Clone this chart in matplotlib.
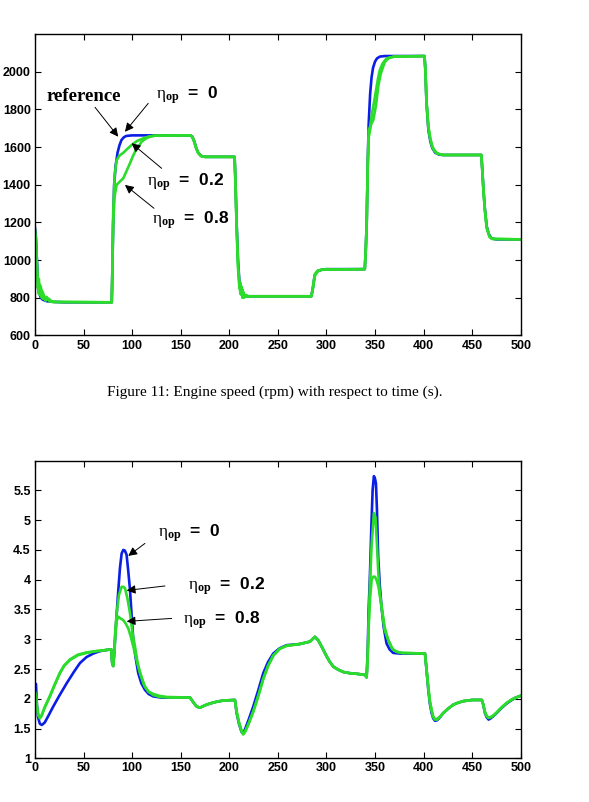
import numpy as np
import matplotlib
matplotlib.use("Agg")
import matplotlib.pyplot as plt

# ---- data: (time s, value) ----
# engine speed (rpm)
speed_blue = [
    (0, 1170), (1, 1120), (2, 1000), (3, 900), (4, 830), (6, 800), (8, 790), (12, 782), (20, 778),
    (30, 776), (79, 776), (79.5, 900), (80.5, 1200), (81.5, 1400), (83, 1500), (85, 1570), (87, 1610),
    (89, 1637), (91.5, 1652), (94, 1659), (100, 1662), (160, 1662), (162, 1655), (164, 1630),
    (166, 1595), (168, 1570), (171, 1553), (175, 1548), (205.5, 1548), (206.5, 1400), (207.5, 1210),
    (209, 1000), (210.5, 880), (213, 830), (216, 810), (220, 808), (284.5, 808), (286, 850),
    (288, 920), (291, 942), (296, 950), (300, 952), (339.5, 952), (340.5, 1050), (341.5, 1200),
    (342.5, 1500), (343.5, 1720), (345, 1880), (346.5, 1970), (348, 2020), (350, 2053), (352, 2070),
    (355, 2080), (360, 2083), (401, 2083), (402, 2000), (403, 1840), (405, 1690), (407, 1630),
    (409, 1595), (412, 1570), (416, 1560), (420, 1558), (459.5, 1558), (460.5, 1480), (461.5, 1390),
    (463, 1280), (465, 1180), (467, 1140), (470, 1115), (475, 1110), (500, 1110),
]
speed_eta02 = [
    (0, 1150), (1, 1100), (2, 950), (3, 850), (4, 900), (5, 820), (6, 860), (7, 800), (8, 830),
    (10, 790), (12, 805), (15, 780), (20, 778), (79, 776), (79.5, 900), (80.5, 1250), (82, 1450),
    (84, 1530), (87, 1555), (91, 1570), (95, 1590), (99.5, 1611), (105, 1632), (111.5, 1646),
    (117, 1656), (122, 1660), (160, 1662), (162, 1655), (164, 1630), (166, 1595), (168, 1570),
    (171, 1553), (175, 1548), (205.5, 1548), (206.5, 1400), (207.5, 1200), (209, 980), (210.5, 870),
    (211.5, 820), (212.5, 860), (213.5, 800), (214.5, 830), (216, 805), (220, 808), (284.5, 808),
    (286, 850), (288, 925), (291, 944), (296, 950), (339.5, 952), (340.5, 1050), (341.5, 1200),
    (342.5, 1500), (343.5, 1690), (345, 1708), (347, 1780), (350, 1867), (353, 1960), (355, 2009),
    (358, 2045), (362, 2071), (369, 2080), (401, 2083), (402, 2000), (403, 1840), (405, 1700),
    (407, 1640), (409, 1600), (411, 1580), (414, 1565), (420, 1558), (459.5, 1558), (460.5, 1480),
    (461.5, 1390), (463, 1280), (465, 1177), (468, 1125), (471, 1113), (500, 1110),
]
speed_eta08 = [
    (0, 1160), (1, 1080), (2, 980), (3, 880), (4, 820), (5, 870), (6, 810), (7, 840), (8, 795),
    (9, 815), (11, 785), (14, 795), (18, 778), (79, 776), (79.5, 900), (80.5, 1200), (82, 1340),
    (84, 1399), (87, 1415), (90.9, 1434), (94, 1470), (97.8, 1514), (100.5, 1548), (103, 1575),
    (106, 1600), (109.8, 1628), (114, 1645), (118.4, 1655), (124, 1661), (160, 1662), (162, 1652),
    (164, 1625), (166, 1592), (168, 1568), (171, 1552), (175, 1548), (205.5, 1548), (206.5, 1380),
    (207.5, 1180), (209, 960), (210.5, 850), (211.5, 880), (212.5, 815), (213.5, 845), (215, 800),
    (217, 815), (220, 808), (284.5, 808), (286, 845), (288, 915), (291, 940), (296, 950), (339.5, 952),
    (340.5, 1050), (341.5, 1200), (342.5, 1480), (343.5, 1650), (346, 1720), (348.3, 1744),
    (351, 1820), (353.5, 1926), (356, 1990), (360, 2050), (364, 2072), (370, 2080), (401, 2083),
    (402, 2000), (403, 1850), (405, 1710), (407, 1645), (409, 1605), (411, 1585), (414, 1567),
    (420, 1558), (459.5, 1558), (460.5, 1470), (461.5, 1380), (463, 1270), (465, 1170), (468, 1122),
    (471, 1112), (500, 1110),
]

# second plot
ratio_blue = [
    (0, 2.23), (1, 2.25), (2, 1.9), (3, 1.7), (5, 1.58), (7, 1.56), (10, 1.6), (14, 1.72),
    (18.8, 1.87), (25, 2.05), (32.6, 2.26), (40, 2.45), (46.3, 2.6), (53, 2.7), (60, 2.76), (67, 2.8),
    (73.8, 2.82), (78.5, 2.83), (79.5, 2.6), (80.5, 2.55), (81.5, 2.75), (82.4, 2.99), (84, 3.4),
    (85.8, 3.83), (87.5, 4.2), (89.2, 4.44), (90.9, 4.5), (92.5, 4.49), (94.3, 4.42), (96, 4.15),
    (97.8, 3.83), (99.5, 3.4), (101.2, 2.99), (103.5, 2.7), (106.3, 2.43), (109.5, 2.26),
    (113.2, 2.15), (117, 2.08), (121.8, 2.04), (130, 2.02), (159.6, 2.02), (163, 1.94), (166.4, 1.87),
    (169.8, 1.85), (175, 1.89), (180, 1.92), (187, 1.95), (193.8, 1.97), (205.8, 1.98), (206.5, 1.9),
    (207.6, 1.76), (210, 1.58), (212.7, 1.44), (214.4, 1.42), (216.5, 1.5), (220, 1.65),
    (224.7, 1.87), (230, 2.15), (235, 2.43), (240, 2.62), (245.3, 2.76), (252, 2.85), (259, 2.9),
    (272.7, 2.92), (283, 2.96), (288.2, 3.04), (291.7, 2.98), (296, 2.85), (300.3, 2.71),
    (303.5, 2.62), (307.1, 2.54), (312, 2.49), (317.4, 2.45), (324, 2.43), (331.1, 2.42),
    (339.7, 2.4), (341.4, 2.36), (342.5, 2.8), (343.5, 3.5), (344.9, 4.11), (346.3, 4.9),
    (347.6, 5.51), (348.9, 5.74), (350, 5.7), (351, 5.62), (352, 5.2), (353.3, 4.39), (355, 3.9),
    (356.7, 3.55), (359, 3.2), (361.9, 2.93), (365, 2.83), (368.8, 2.77), (375.7, 2.76),
    (401.5, 2.76), (403, 2.5), (404.9, 2.15), (406.5, 1.92), (408.3, 1.76), (410, 1.67),
    (411.8, 1.63), (414, 1.64), (417, 1.69), (420.3, 1.76), (425, 1.83), (430.6, 1.9), (435, 1.93),
    (440.9, 1.96), (450, 1.98), (460, 1.98), (461.5, 1.9), (463.2, 1.76), (465, 1.69), (467, 1.65),
    (469, 1.67), (472, 1.71), (475.3, 1.76), (480, 1.84), (485.6, 1.92), (490, 1.97), (495, 2.02),
    (500, 2.05),
]
ratio_eta02 = [
    (0, 2.1), (1, 2.05), (2, 1.85), (3.5, 1.72), (5.1, 1.67), (7, 1.72), (10, 1.85), (15.4, 2.04),
    (20, 2.22), (25.7, 2.43), (30, 2.55), (36, 2.65), (44, 2.73), (53.2, 2.77), (63, 2.8),
    (73.8, 2.82), (78.5, 2.83), (79.5, 2.6), (80.5, 2.55), (81.5, 2.75), (82.5, 3.1), (84.1, 3.44),
    (86.5, 3.75), (89.2, 3.88), (91, 3.88), (92.6, 3.86), (95, 3.7), (97.8, 3.44), (100.5, 3.1),
    (102.9, 2.88), (105.5, 2.62), (108.1, 2.43), (112, 2.24), (116.6, 2.12), (122, 2.06),
    (128.7, 2.03), (140, 2.02), (159.6, 2.02), (163, 1.94), (166.4, 1.87), (169.8, 1.85), (175, 1.89),
    (180, 1.92), (187, 1.95), (193.8, 1.97), (205.8, 1.98), (206.5, 1.9), (207.6, 1.78), (210, 1.6),
    (212.7, 1.45), (214.4, 1.4), (216.5, 1.45), (220, 1.58), (224.7, 1.78), (230, 2.05), (235, 2.33),
    (240, 2.55), (245.3, 2.72), (252, 2.84), (259, 2.89), (272.7, 2.92), (283, 2.96), (288.2, 3.04),
    (291.7, 2.98), (296, 2.85), (300.3, 2.71), (303.5, 2.62), (307.1, 2.54), (312, 2.49),
    (317.4, 2.45), (324, 2.43), (331.1, 2.42), (339.7, 2.4), (341.4, 2.36), (342.5, 2.7),
    (343.5, 3.3), (345, 4.0), (346.6, 4.6), (348.9, 5.12), (350.5, 5.05), (352, 4.6), (353.5, 4.1),
    (355, 3.75), (357, 3.5), (360, 3.15), (363.6, 2.99), (368, 2.83), (372.2, 2.79), (378, 2.77),
    (401.5, 2.76), (403, 2.5), (404.9, 2.18), (406.5, 1.95), (408.3, 1.8), (410, 1.69), (411.8, 1.65),
    (414, 1.65), (417, 1.7), (420.3, 1.76), (425, 1.83), (430.6, 1.9), (435, 1.93), (440.9, 1.96),
    (450, 1.98), (460, 1.98), (461.5, 1.9), (463.2, 1.78), (465, 1.71), (467, 1.68), (469, 1.69),
    (472, 1.72), (475.3, 1.77), (480, 1.85), (485.6, 1.93), (490, 1.98), (495, 2.02), (500, 2.05),
]
ratio_eta08 = [
    (0, 2.12), (1, 2.06), (2, 1.86), (3.5, 1.73), (5.1, 1.68), (7, 1.73), (10, 1.86), (15.4, 2.05),
    (20, 2.23), (25.7, 2.44), (30, 2.56), (36, 2.66), (44, 2.74), (53.2, 2.78), (63, 2.8),
    (73.8, 2.82), (78.5, 2.83), (79.5, 2.6), (80.5, 2.55), (81.5, 2.72), (82.5, 3.0), (84, 3.3),
    (85.8, 3.38), (88, 3.35), (90.9, 3.32), (93.5, 3.26), (96.1, 3.18), (98.5, 3.05), (101.2, 2.88),
    (103.8, 2.7), (106.3, 2.54), (110, 2.35), (113.2, 2.2), (117, 2.12), (121.8, 2.08), (128, 2.05),
    (135.5, 2.03), (159.6, 2.02), (163, 1.94), (166.4, 1.87), (169.8, 1.85), (175, 1.89), (180, 1.92),
    (187, 1.95), (193.8, 1.97), (205.8, 1.98), (206.5, 1.9), (207.6, 1.78), (210, 1.6),
    (212.7, 1.46), (214.4, 1.41), (216.5, 1.46), (220, 1.59), (224.7, 1.79), (230, 2.06),
    (235, 2.34), (240, 2.56), (245.3, 2.73), (252, 2.84), (259, 2.89), (272.7, 2.92), (283, 2.96),
    (288.2, 3.04), (291.7, 2.98), (296, 2.85), (300.3, 2.71), (303.5, 2.62), (307.1, 2.54),
    (312, 2.49), (317.4, 2.45), (324, 2.43), (331.1, 2.42), (339.7, 2.4), (341.4, 2.36),
    (342.5, 2.7), (343.5, 3.2), (345, 3.7), (346.6, 4.0), (348, 4.05), (350, 4.05), (351.5, 4.0),
    (353.5, 3.89), (355, 3.75), (356.9, 3.55), (360, 3.2), (363.6, 2.99), (368, 2.84), (372.2, 2.79),
    (378, 2.77), (401.5, 2.76), (403, 2.52), (404.9, 2.2), (406.5, 1.97), (408.3, 1.81), (410, 1.7),
    (411.8, 1.66), (414, 1.66), (417, 1.7), (420.3, 1.76), (425, 1.83), (430.6, 1.9), (435, 1.93),
    (440.9, 1.96), (450, 1.98), (460, 1.98), (461.5, 1.9), (463.2, 1.78), (465, 1.71), (467, 1.68),
    (469, 1.69), (472, 1.72), (475.3, 1.77), (480, 1.85), (485.6, 1.93), (490, 1.98), (495, 2.02),
    (500, 2.05),
]

speed_ticks = [600, 800, 1000, 1200, 1400, 1600, 1800, 2000]
ratio_ticks = [1, 1.5, 2, 2.5, 3, 3.5, 4, 4.5, 5, 5.5]
ratio_ticklabels = ["1", "1.5", "2", "2.5", "3", "3.5", "4", "4.5", "5", "5.5"]
time_ticks = [0, 50, 100, 150, 200, 250, 300, 350, 400, 450, 500]
caption = "Figure 11: Engine speed (rpm) with respect to time (s)."

BLUE = "#0a1ee6"
GREEN = "#2bdc2b"

plt.rcParams["mathtext.fontset"] = "custom"
plt.rcParams["mathtext.rm"] = "Liberation Serif"
plt.rcParams["mathtext.it"] = "Liberation Serif"
plt.rcParams["mathtext.bf"] = "Liberation Serif:bold"

fig = plt.figure(figsize=(5.89, 8.02), dpi=100)
ax1 = fig.add_axes([0.0594, 0.5817, 0.8246, 0.3759])
ax2 = fig.add_axes([0.0594, 0.0545, 0.8246, 0.3711])


def draw(ax, blue, greens):
    b = np.array(blue)
    ax.plot(b[:, 0], b[:, 1], color=BLUE, lw=1.9, solid_joinstyle="round")
    for g in greens:
        g = np.array(g)
        ax.plot(g[:, 0], g[:, 1], color=GREEN, lw=1.9, solid_joinstyle="round")


def style(ax):
    ax.set_xlim(0, 500)
    ax.set_xticks(time_ticks)
    ax.tick_params(direction="in", length=4, width=0.8, top=True, right=True,
                   labelsize=9, pad=3)
    for lab in ax.get_xticklabels() + ax.get_yticklabels():
        lab.set_fontweight("bold")
        lab.set_family("Liberation Sans")
    for s in ax.spines.values():
        s.set_linewidth(1.0)


def label(ax, text, xy, tip, tail, size=12.5):
    ax.text(xy[0], xy[1], text, fontsize=size, family="Liberation Sans",
            fontweight="bold", va="center", ha="left")
    if tip is not None:
        ax.annotate("", xy=tip, xytext=tail,
                    arrowprops=dict(arrowstyle="-|>", color="k", lw=0.7,
                                    mutation_scale=13, shrinkA=0, shrinkB=0))


eta0 = r"$\eta_{\mathbf{op}}$  =  0"
eta02 = r"$\eta_{\mathbf{op}}$  =  0.2"
eta08 = r"$\eta_{\mathbf{op}}$  =  0.8"

# engine speed
draw(ax1, speed_blue, [speed_eta02, speed_eta08])
ax1.set_ylim(600, 2200)
ax1.set_yticks(speed_ticks)
style(ax1)
ax1.text(12, 1867, "reference", fontsize=13.5, fontweight="bold",
         family="Liberation Serif", va="center", ha="left")
ax1.annotate("", xy=(85.7, 1655), xytext=(61.8, 1811),
             arrowprops=dict(arrowstyle="-|>", color="k", lw=0.7,
                             mutation_scale=13, shrinkA=0, shrinkB=0))
label(ax1, eta0, (125, 1876), (92.6, 1681), (116.6, 1832))
label(ax1, eta02, (115, 1416), (99.5, 1620), (130.4, 1487))
label(ax1, eta08, (120, 1213), (92.6, 1399), (122.5, 1275))

# second plot
draw(ax2, ratio_blue, [ratio_eta02, ratio_eta08])
ax2.set_ylim(1, 6)
ax2.set_yticks(ratio_ticks)
ax2.set_yticklabels(ratio_ticklabels)
style(ax2)
label(ax2, eta0, (127, 4.78), (96, 4.40), (113.2, 4.61))
label(ax2, eta02, (157.8, 3.895), (94.4, 3.82), (133.8, 3.895))
label(ax2, eta08, (152.7, 3.32), (94.4, 3.30), (140.7, 3.35))

fig.text(275 / 589, 1 - 392 / 802, caption, fontsize=11, family="Liberation Serif",
         ha="center", va="center")

fig.savefig("out.png", dpi=100)
